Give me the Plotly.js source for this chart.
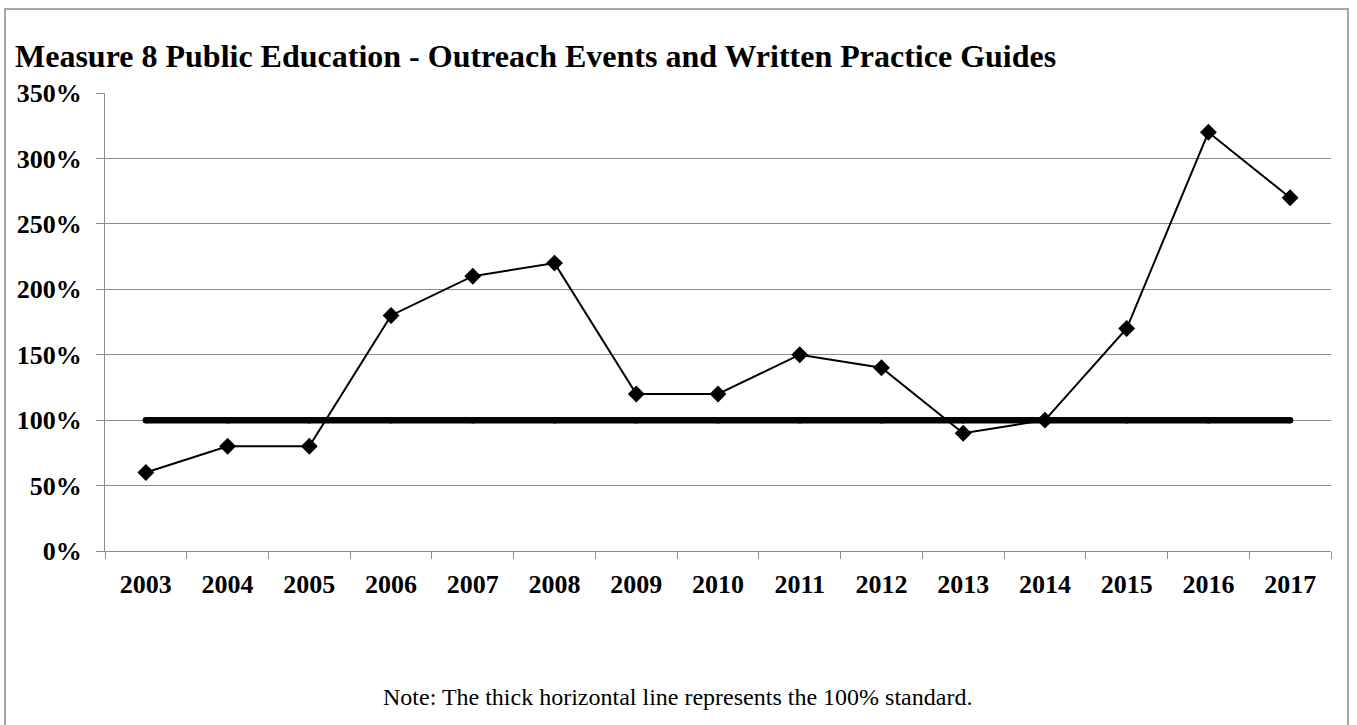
<!DOCTYPE html>
<html>
<head>
<meta charset="utf-8">
<script src="https://cdn.plot.ly/plotly-3.0.1.min.js"></script>
<style>
  html, body { margin: 0; padding: 0; background: #ffffff; }
  #frame {
    position: absolute; left: 4px; top: 8px; width: 1345px; height: 740px;
    border: 2px solid #a6a6a6; box-sizing: border-box;
  }
  #chart { position: absolute; left: 0; top: 0; width: 1357px; height: 725px; }
</style>
</head>
<body>
<div id="frame"></div>
<div id="chart"></div>
<script>
// Yearly performance for Measure 8 (percent of target)
const years = ['2003','2004','2005','2006','2007','2008','2009','2010','2011','2012','2013','2014','2015','2016','2017'];
const performance = [60, 80, 80, 180, 210, 220, 120, 120, 150, 140, 90, 100, 170, 320, 270];
const standardLevel = [100, 100, 100, 100, 100, 100, 100, 100, 100, 100, 100, 100, 100, 100, 100];
const titleText = 'Measure 8 Public Education - Outreach Events and Written Practice Guides';
const noteText = 'Note: The thick horizontal line represents the 100% standard.';

const serif = 'Liberation Serif, Times New Roman, serif';
const gridGray = '#8c8c8c';

const traces = [
  {
    x: years, y: standardLevel, type: 'scatter', mode: 'lines+markers',
    line: { color: '#000000', width: 6.5 },
    marker: { symbol: 'circle', size: 6.5, color: '#000000' },
    hoverinfo: 'skip', showlegend: false
  },
  {
    x: years, y: performance, type: 'scatter', mode: 'lines+markers',
    line: { color: '#000000', width: 2 },
    marker: { symbol: 'diamond', size: 13, color: '#000000' },
    showlegend: false
  }
];

const layout = {
  width: 1357, height: 725,
  paper_bgcolor: 'rgba(0,0,0,0)', plot_bgcolor: 'rgba(0,0,0,0)',
  margin: { l: 105, r: 26, t: 93, b: 174 },
  font: { family: serif, color: '#000000' },
  title: {
    text: '<b>' + titleText + '</b>',
    font: { family: serif, size: 32, color: '#000000' },
    x: 15 / 1357, xref: 'container', xanchor: 'left',
    y: 1 - 56 / 725, yref: 'container', yanchor: 'middle'
  },
  xaxis: {
    type: 'category',
    range: [-0.5, 14.5],
    showgrid: false, zeroline: false,
    showline: true, linecolor: gridGray, linewidth: 1,
    ticks: 'outside', tickson: 'boundaries', ticklen: 7, tickcolor: gridGray, tickwidth: 1,
    tickfont: { family: serif, size: 26, color: '#000000', weight: 'bold' },
    ticklabelstandoff: 10
  },
  yaxis: {
    range: [0, 350], dtick: 50, tick0: 0,
    ticksuffix: '%',
    showgrid: true, gridcolor: gridGray, gridwidth: 1,
    zeroline: false,
    showline: true, linecolor: gridGray, linewidth: 1,
    ticks: 'outside', ticklen: 8, tickcolor: gridGray, tickwidth: 1,
    tickfont: { family: serif, size: 26, color: '#000000', weight: 'bold' },
    ticklabelstandoff: 9
  },
  annotations: [
    {
      text: noteText, xref: 'paper', yref: 'paper',
      x: (677 - 105) / 1226, y: -(697 - 551) / 458, xanchor: 'center', yanchor: 'middle',
      showarrow: false, font: { family: serif, size: 24, color: '#000000' }
    }
  ]
};

Plotly.newPlot('chart', traces, layout, { displayModeBar: false, staticPlot: true });
</script>
</body>
</html>
